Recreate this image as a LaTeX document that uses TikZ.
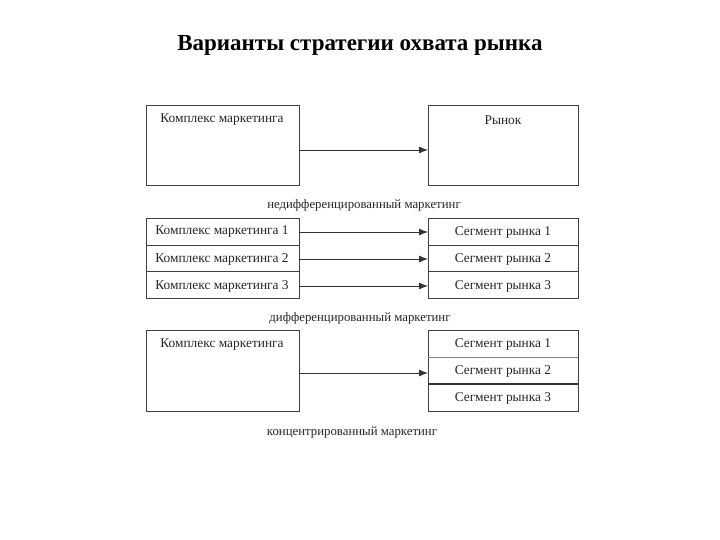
\documentclass[tikz,border=0pt]{standalone}
\usepackage{fontspec}
\setmainfont{Liberation Serif}
\usetikzlibrary{arrows.meta}
\begin{document}
\begin{tikzpicture}[x=1pt,y=-1pt,
  bx/.style={draw=black!75,line width=0.8pt},
  txt/.style={font=\fontsize{13.4}{15}\selectfont,text=black!85},
  arr/.style={-{Latex[length=9pt,width=7pt]},line width=0.9pt,draw=black!80},
  lbl/.style={font=\fontsize{12.8}{15}\selectfont,text=black!85}]
\useasboundingbox (0,0) rectangle (720,540);
\node[font=\fontsize{23}{26}\selectfont\bfseries] (title) at (360,45) {Варианты стратегии охвата рынка};
% section 1
\draw[bx] (146,105) rectangle (299,185);
\draw[bx] (428,105) rectangle (578,185);
\node[txt] (a1) at (222,120) {Комплекс маркетинга};
\node[txt] (b1) at (503,120) {Рынок};
\coordinate (a1r) at (299,150); \coordinate (b1l) at (428,150);
\draw[arr] (a1r) -- (b1l);
\node[lbl] (l1) at (364,205) {недифференцированный маркетинг};
% section 2
\draw[bx] (146,218) rectangle (299,298);
\draw[bx] (146,245) -- (299,245) (146,271) -- (299,271);
\draw[bx] (428,218) rectangle (578,298);
\draw[bx] (428,245) -- (578,245) (428,271) -- (578,271);
\foreach \i/\y in {1/232,2/259,3/286}{
  \node[txt] (c\i) at (222,\y) {Комплекс маркетинга \i};
  \node[txt] (s\i) at (503,\y) {Сегмент рынка \i};
  \coordinate (cr\i) at (299,\y); \coordinate (sl\i) at (428,\y);
  \draw[arr] (cr\i) -- (sl\i);
}
\node[lbl] (l2) at (360,318) {дифференцированный маркетинг};
% section 3
\draw[bx] (146,330) rectangle (299,411);
\draw[bx] (428,330) rectangle (578,411);
\draw[draw=black!50,line width=0.6pt] (428,357) -- (578,357);
\draw[draw=black!80,line width=1.2pt] (428,384) -- (578,384);
\node[txt] (a3) at (222,345) {Комплекс маркетинга};
\foreach \i/\y in {1/344,2/371,3/398}{
  \node[txt] (t\i) at (503,\y) {Сегмент рынка \i};
}
\coordinate (a3r) at (299,373); \coordinate (b3l) at (428,373);
\draw[arr] (a3r) -- (b3l);
\node[lbl] (l3) at (352,432) {концентрированный маркетинг};
\end{tikzpicture}
\end{document}
